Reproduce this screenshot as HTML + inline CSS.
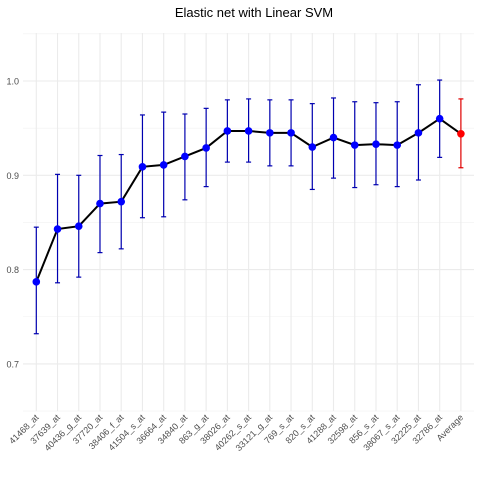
<!DOCTYPE html>
<html><head><meta charset="utf-8"><style>
body{margin:0;background:#fff}
svg{display:block;font-family:"Liberation Sans",sans-serif}
</style></head><body>
<svg id="chart" width="480" height="480">
<text x="254" y="17" text-anchor="middle" font-size="13" fill="#000">Elastic net with Linear SVM</text>
<g id="grid"></g><g id="axes"></g><g id="marks"></g>
</svg>
<script>
const categories=["41468_at","37639_at","40436_g_at","37720_at","38406_f_at","41504_s_at","36664_at","34840_at","863_g_at","38026_at","40262_s_at","33121_g_at","769_s_at","820_s_at","41288_at","32598_at","856_s_at","38067_s_at","32225_at","32786_at","Average"];
const means=[0.787,0.843,0.846,0.870,0.872,0.909,0.911,0.920,0.929,0.947,0.947,0.945,0.945,0.930,0.940,0.932,0.933,0.932,0.945,0.960,0.944];
const lows=[0.732,0.786,0.792,0.818,0.822,0.855,0.856,0.874,0.888,0.914,0.914,0.910,0.910,0.885,0.897,0.887,0.890,0.888,0.895,0.919,0.908];
const highs=[0.845,0.901,0.900,0.921,0.922,0.964,0.967,0.965,0.971,0.980,0.981,0.980,0.980,0.976,0.982,0.978,0.977,0.978,0.996,1.001,0.981];
const yTicks=[0.7,0.8,0.9,1.0];
const yMinor=[0.65,0.75,0.85,0.95,1.05];
const NS="http://www.w3.org/2000/svg";
const X=i=>36.3+i*21.23;
const Y=v=>81+(1-v)*943;
function mk(p,tag,a){const e=document.createElementNS(NS,tag);for(const k in a)e.setAttribute(k,a[k]);p.appendChild(e);return e;}
const grid=document.getElementById('grid'),axes=document.getElementById('axes'),marks=document.getElementById('marks');
yMinor.forEach(v=>{const l=mk(grid,'line',{x1:23,x2:474,y1:Y(v),y2:Y(v),stroke:'#f0f0f0','stroke-width':0.6});

});
yTicks.forEach(v=>{const l=mk(grid,'line',{x1:23,x2:474,y1:Y(v),y2:Y(v),stroke:'#ebebeb','stroke-width':1.1});


const t=mk(axes,'text',{x:19,y:Y(v)+3.5,'text-anchor':'end','font-size':9,fill:'#4d4d4d'});t.textContent=v.toFixed(1);

});
categories.forEach((c,i)=>{const l=mk(grid,'line',{x1:X(i),x2:X(i),y1:33,y2:411,stroke:'#ebebeb','stroke-width':1.1});


const t=mk(axes,'text',{x:X(i)+3,y:418,'text-anchor':'end','font-size':9,fill:'#4d4d4d',transform:`rotate(-45 ${X(i)+3} 418)`});t.textContent=c;

});
const pts=means.map((m,i)=>X(i)+','+Y(m)).join(' ');
const line=mk(marks,'polyline',{points:pts,fill:'none',stroke:'#000','stroke-width':2});


means.forEach((m,i)=>{const col=i===means.length-1?'#e00000':'#0000b0';const x=X(i);
const g=mk(marks,'g',{});


mk(g,'line',{x1:x,x2:x,y1:Y(lows[i]),y2:Y(highs[i]),stroke:col,'stroke-width':1.2});
mk(g,'line',{x1:x-2.5,x2:x+2.5,y1:Y(lows[i]),y2:Y(lows[i]),stroke:col,'stroke-width':1.2});
mk(g,'line',{x1:x-2.5,x2:x+2.5,y1:Y(highs[i]),y2:Y(highs[i]),stroke:col,'stroke-width':1.2});
const c=mk(marks,'circle',{cx:x,cy:Y(m),r:3.8,fill:i===means.length-1?'#ff0000':'#0000ff'});

});
</script>
</body></html>
